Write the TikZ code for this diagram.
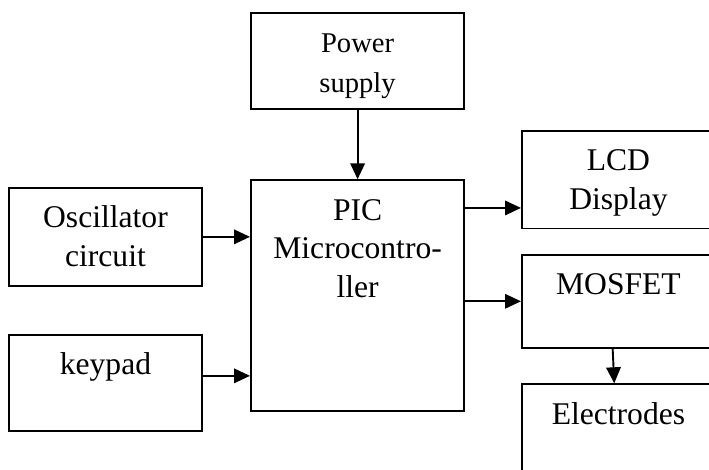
\documentclass[tikz,border=0pt]{standalone}
\usepackage{fontspec}
\setmainfont{Liberation Serif}
\usetikzlibrary{arrows.meta}

\begin{document}
\begin{tikzpicture}[
  x=1pt, y=-1pt,
  box/.style={rectangle, draw=black, line width=1.9pt, anchor=north west,
              inner sep=0pt, align=center, text height=40pt,
              font=\fontsize{31.6}{38.5}\selectfont},
  sidebox/.style={box, text width=193pt},
  midbox/.style={box, text width=213.3pt},
  arrow/.style={-{Triangle[length=16pt,width=14.5pt]}, line width=1.9pt}
]
\useasboundingbox (0,0) rectangle (709,470);
\clip (0,0) rectangle (709,470);
\node[midbox, text depth=56.6pt, font=\fontsize{28.6}{40}\selectfont] (power) at (250,11.7) {Power\\supply};
\node[midbox, text depth=190.7pt] (pic) at (250,179.3) {PIC\\Microcontro-\\ller};
\node[sidebox, text depth=58.4pt] (osc) at (8,186.7) {Oscillator\\circuit};
\node[sidebox, text depth=56.4pt] (keypad) at (8,334) {keypad};
\node[sidebox, text depth=57.6pt] (lcd) at (521,130) {LCD\\Display};
\node[sidebox, text depth=52.7pt] (mosfet) at (521,254) {MOSFET};
\node[sidebox, text depth=55.7pt] (electrodes) at (521,383.3) {Electrodes};

\coordinate (keyout) at ([yshift=7.3pt]keypad.east);
\coordinate (lcdin) at ([yshift=-28.2pt]lcd.west);

\draw[arrow] (power) -- (pic);
\draw[arrow] (osc.east) -- (osc.east -| pic.west);
\draw[arrow] (keyout) -- (keyout -| pic.west);
\draw[arrow] (lcdin -| pic.east) -- (lcdin);
\draw[arrow] (mosfet.west -| pic.east) -- (mosfet.west);
\draw[arrow] ([xshift=-5.8pt]mosfet.south) -- ([xshift=-4.2pt]electrodes.north);
\end{tikzpicture}
\end{document}
